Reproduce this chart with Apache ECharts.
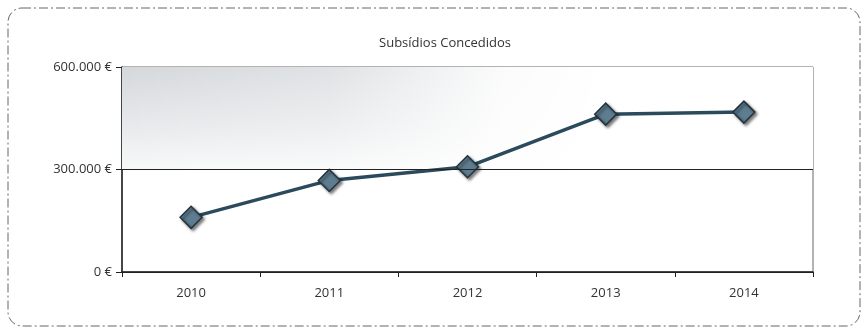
<!DOCTYPE html>
<html><head><meta charset="utf-8">
<script src="https://cdn.jsdelivr.net/npm/echarts@6/dist/echarts.min.js"></script>
<style>html,body{margin:0;padding:0;background:#fff}#c{width:867px;height:334px}</style>
</head><body><div id="c"></div>
<script>
var title = 'Subsídios Concedidos';
var categories = ['2010', '2011', '2012', '2013', '2014'];
var values = [160000, 268000, 308000, 462000, 468000];
var yTicks = [0, 300000, 600000];

function fmt(v) {
  return String(v).replace(/\B(?=(\d{3})+(?!\d))/g, '.') + ' €';
}

var chart = echarts.init(document.getElementById('c'));
chart.setOption({
  backgroundColor: '#fff',
  animation: false,
  title: {
    text: title, left: 440, top: 32, textAlign: 'center',
    textStyle: { fontFamily: 'Open Sans', fontSize: 13, fontWeight: 'normal', color: '#333' }
  },
  graphic: [{
    type: 'rect', shape: { x: 8, y: 8, width: 852, height: 318, r: 14 },
    style: { fill: 'none', stroke: '#666', lineWidth: 1, lineDash: [9, 3, 2, 3] },
    silent: true
  }],
  grid: {
    left: 122, right: 54, top: 67, bottom: 62,
    show: true, borderColor: '#666', borderWidth: 1, backgroundColor: 'transparent'
  },
  xAxis: {
    type: 'category', data: categories, boundaryGap: true,
    axisLine: { lineStyle: { color: '#222', width: 1.5 } },
    axisTick: { show: true, length: 5, lineStyle: { color: '#222' } },
    axisLabel: { fontFamily: 'Open Sans', fontSize: 13, color: '#333', margin: 15 }
  },
  yAxis: {
    type: 'value', min: yTicks[0], max: yTicks[yTicks.length - 1], interval: 300000,
    axisLine: { show: true, lineStyle: { color: '#222', width: 1.5 } },
    axisTick: { show: true, length: 6, lineStyle: { color: '#222' } },
    splitLine: { show: true, lineStyle: { color: '#222', width: 1.2 } },
    axisLabel: { fontFamily: 'Open Sans', fontSize: 13, color: '#333', margin: 10, formatter: fmt }
  },
  series: [{
    type: 'line', data: values,
    symbol: 'diamond', symbolSize: 22,
    lineStyle: { color: '#2b4a5c', width: 3.5 },
    itemStyle: { color: '#5f7d91', borderColor: '#24343f', borderWidth: 1.5,
      shadowBlur: 3, shadowOffsetX: 2, shadowOffsetY: 2, shadowColor: 'rgba(0,0,0,0.5)' },
    markArea: {
      silent: true,
      data: [
        [{ yAxis: 300000, itemStyle: { color: {
            type: 'linear', x: 0, y: 0, x2: 0, y2: 1,
            colorStops: [
              { offset: 0, color: '#d5d8db' },
              { offset: 0.6, color: '#e8eaec' },
              { offset: 1, color: '#f8f9f9' }
            ] } } }, { yAxis: 600000 }],
        [{ yAxis: 300000, itemStyle: { color: {
            type: 'linear', x: 0, y: 0, x2: 1, y2: 0,
            colorStops: [
              { offset: 0, color: 'rgba(255,255,255,0)' },
              { offset: 0.3, color: 'rgba(255,255,255,0.25)' },
              { offset: 0.55, color: 'rgba(255,255,255,0.9)' },
              { offset: 0.7, color: 'rgba(255,255,255,1)' },
              { offset: 1, color: 'rgba(255,255,255,1)' }
            ] } } }, { yAxis: 600000 }]
      ]
    },
    markLine: {
      silent: true, symbol: 'none', label: { show: false },
      lineStyle: { color: '#222', width: 1.2, type: 'solid' },
      data: [{ yAxis: 300000 }]
    },
    z: 3
  }]
});
</script></body></html>
